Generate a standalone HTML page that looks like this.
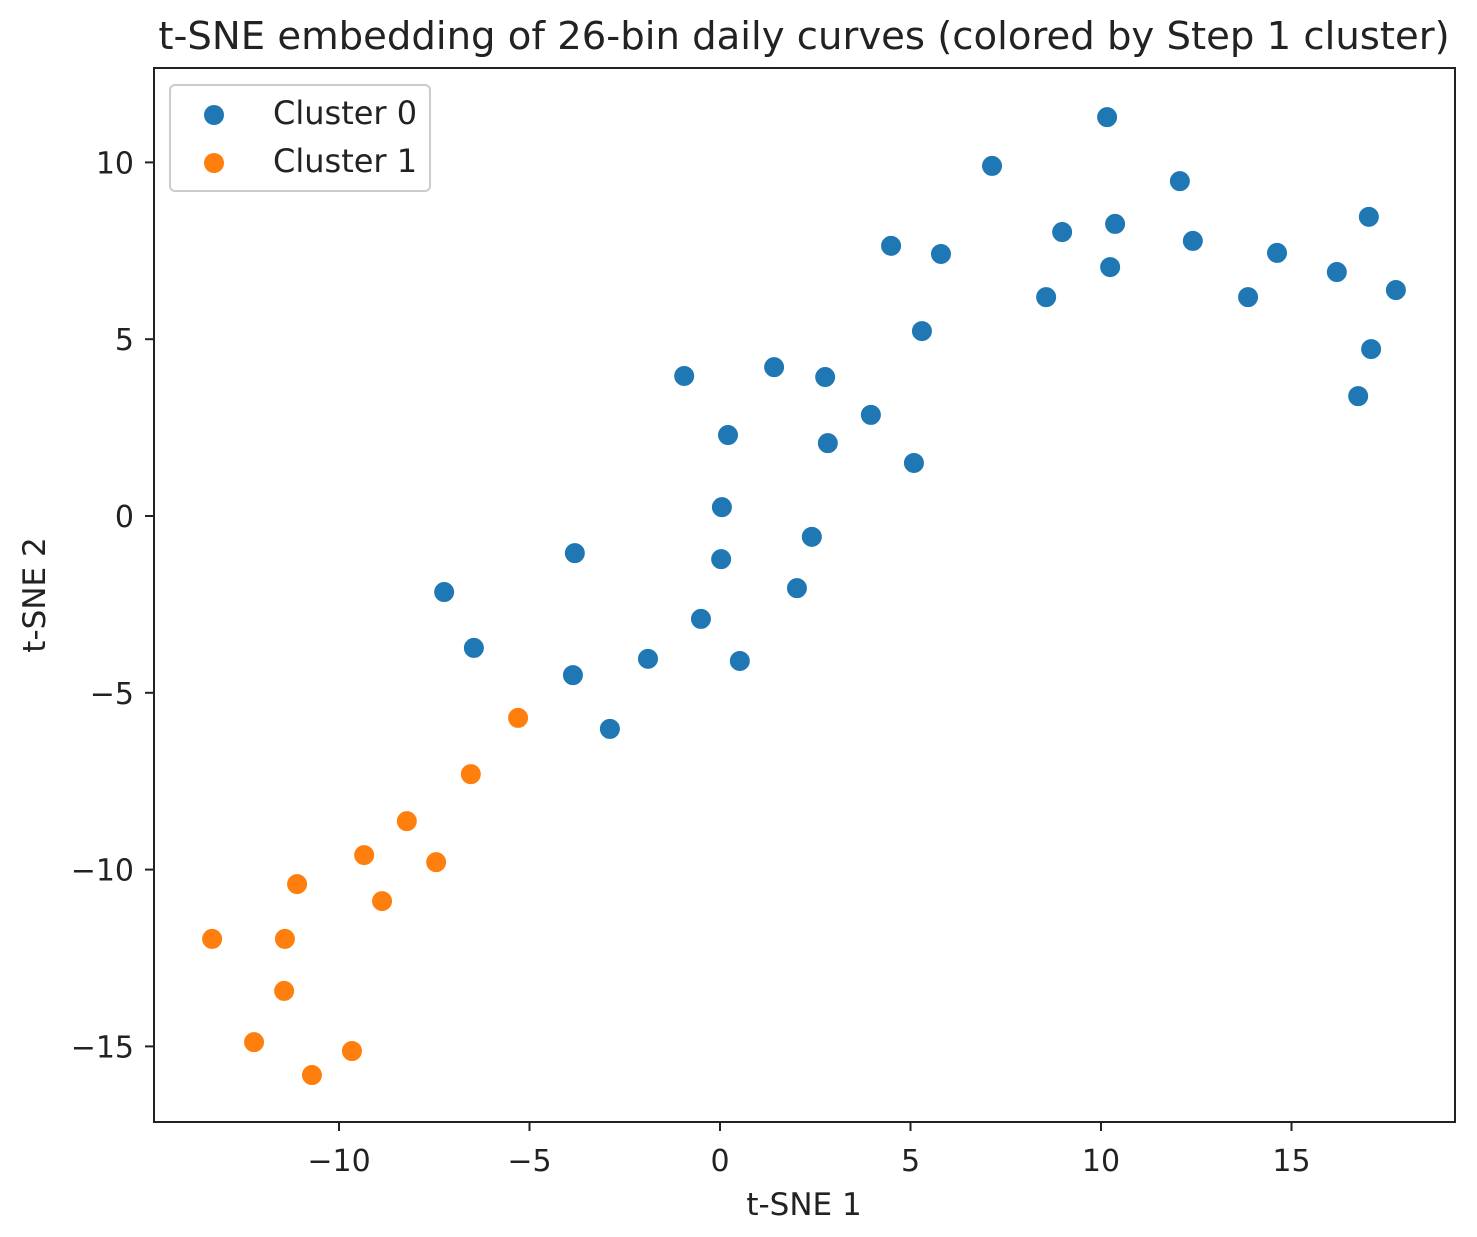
<!DOCTYPE html>
<html><head><meta charset="utf-8"><style>
body{margin:0;background:#fff;}
svg text{font-family:"DejaVu Sans","Liberation Sans",sans-serif;fill:#222;}
</style></head><body>
<svg width="1477" height="1232" xmlns="http://www.w3.org/2000/svg">
<text x="804" y="49" font-size="38.6" text-anchor="middle">t-SNE embedding of 26-bin daily curves (colored by Step 1 cluster)</text>
<g id="axes"></g>
<g id="pts"></g>
<rect x="154" y="68" width="1301" height="1054" fill="none" stroke="#222" stroke-width="2"/>
<text x="804" y="1215" font-size="31" text-anchor="middle">t-SNE 1</text>
<text transform="translate(45,595) rotate(-90)" font-size="31" text-anchor="middle">t-SNE 2</text>
<g>
<rect x="170" y="85" width="260" height="106" rx="5" fill="#fff" stroke="#ccc" stroke-width="2"/>
<circle cx="214" cy="115" r="10" fill="#1f77b4"/>
<text x="273" y="124" font-size="32">Cluster 0</text>
<circle cx="214" cy="163" r="10" fill="#ff7f0e"/>
<text x="273" y="172" font-size="32">Cluster 1</text>
</g>
</svg>
<script>
const xTicks=[-10,-5,0,5,10,15];
const yTicks=[10,5,0,-5,-10,-15];
const c0x=[10.16,7.14,12.07,17.03,4.49,5.8,8.98,10.37,12.41,10.24,14.62,16.19,17.74,8.56,13.86,5.3,17.09,16.75,-0.94,1.42,2.76,3.96,0.21,2.83,5.09,0.05,-3.81,2.41,0.03,-7.24,2.02,-0.5,-6.46,-1.89,0.52,-3.86,-2.89];
const c0y=[11.28,9.9,9.47,8.46,7.64,7.41,8.03,8.26,7.78,7.04,7.44,6.9,6.39,6.19,6.19,5.23,4.72,3.39,3.96,4.21,3.93,2.86,2.29,2.06,1.5,0.25,-1.05,-0.59,-1.22,-2.15,-2.04,-2.91,-3.73,-4.04,-4.1,-4.5,-6.02];
const c1x=[-5.3,-6.54,-8.22,-9.34,-7.45,-11.1,-8.87,-13.33,-11.42,-11.44,-12.23,-9.66,-10.71];
const c1y=[-5.71,-7.3,-8.63,-9.59,-9.79,-10.41,-10.89,-11.96,-11.96,-13.43,-14.88,-15.13,-15.81];
const NS="http://www.w3.org/2000/svg";
const sx=v=>720+v*38.1;
const sy=v=>516-v*35.36;
const ax=document.getElementById('axes'),pts=document.getElementById('pts');
function mk(t,a,p){const e=document.createElementNS(NS,t);for(const k in a)e.setAttribute(k,a[k]);p.appendChild(e);return e;}
xTicks.forEach(v=>{
 const l=mk('line',{x1:sx(v),x2:sx(v),y1:1122,y2:1131,stroke:'#222','stroke-width':2},ax);
 
 
 const t=mk('text',{x:sx(v),y:1171,'font-size':30,'text-anchor':'middle'},ax);
 t.textContent=(v<0?'\u2212'+(-v):v);
 
 
});
yTicks.forEach(v=>{
 const l=mk('line',{x1:145,x2:154,y1:sy(v),y2:sy(v),stroke:'#222','stroke-width':2},ax);
 
 
 const t=mk('text',{x:134,y:sy(v)+11,'font-size':30,'text-anchor':'end'},ax);
 t.textContent=(v<0?'\u2212'+(-v):v);
 
 
});
c0x.forEach((v,i)=>{
 const c=mk('circle',{cx:sx(v),cy:sy(c0y[i]),r:10.5,fill:'#1f77b4',stroke:'#fff','stroke-width':1},pts);
 
 
});
c1x.forEach((v,i)=>{
 const c=mk('circle',{cx:sx(v),cy:sy(c1y[i]),r:10.5,fill:'#ff7f0e',stroke:'#fff','stroke-width':1},pts);
 
 
});
</script>
</body></html>
